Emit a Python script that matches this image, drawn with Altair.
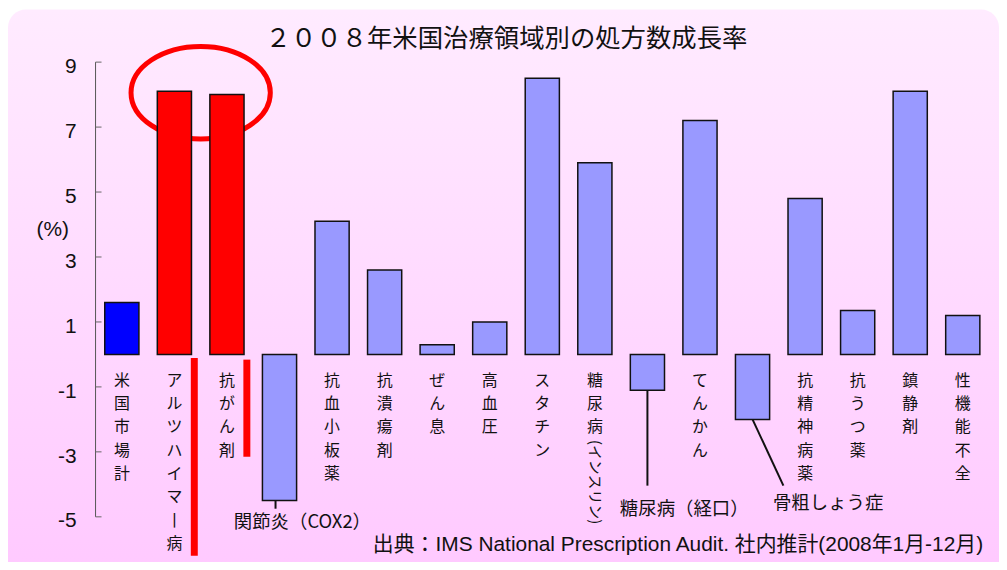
import altair as alt
import pandas as pd

# ---------------- data ----------------
categories = [
    "米国市場計", "アルツハイマー病", "抗がん剤", "関節炎(COX2)", "抗血小板薬",
    "抗潰瘍剤", "ぜん息", "高血圧", "スタチン", "糖尿病(インスリン)",
    "糖尿病(経口)", "てんかん", "骨粗しょう症", "抗精神病薬", "抗うつ薬",
    "鎮静剤", "性機能不全",
]
growth = [1.6, 8.1, 8.0, -4.5, 4.1, 2.6, 0.3, 1.0, 8.5, 5.9,
          -1.1, 7.2, -2.0, 4.8, 1.35, 8.1, 1.2]
groups = ["市場計", "注目", "注目"] + ["その他"] * 14
group_names = ["市場計", "注目", "その他"]
group_colors = ["#0000FF", "#FF0000", "#9999FF"]

# vertical labels written under the zero line ("" = labelled by a callout)
vertical_labels = [
    "米国市場計", "アルツハイマ丨病", "抗がん剤", "", "抗血小板薬",
    "抗潰瘍剤", "ぜん息", "高血圧", "スタチン", "糖尿病",
    "", "てんかん", "", "抗精神病薬", "抗うつ薬", "鎮静剤", "性機能不全",
]
rotated_category = "糖尿病(インスリン)"
rotated_text = "(インスリン)"
rotated_y = -3.93

callout_categories = ["関節炎(COX2)", "糖尿病(経口)", "骨粗しょう症"]
callout_texts = ["関節炎（COX2）", "糖尿病（経口）", "骨粗しょう症"]
callout_text_y = [-5.15, -4.77, -4.59]
leader_end_y = [-4.75, -4.04, -4.04]

marker_categories = ["アルツハイマー病", "抗がん剤"]
marker_top = [-0.11, -0.16]
marker_bottom = [-6.2, -3.15]

highlight_category = "アルツハイマー病"
highlight_y = 8.06

y_ticks = [-5, -3, -1, 1, 3, 5, 7, 9]
y_tick_labels = [("-" + str(abs(v))) if v < 0 else str(v) for v in y_ticks]
y_unit = "(%)"
y_unit_at = 3.9

title_text = "２００８年米国治療領域別の処方数成長率"
source_text = "出典：IMS National Prescription Audit. 社内推計(2008年1月-12月)"

# ---------------- layout constants ----------------
W, H = 898, 457
STEP = W / len(categories)
JP = "Noto Sans CJK JP"
LAT = "Liberation Sans"
AXIS_C = "#555555"

x_scale = alt.Scale(domain=categories, paddingInner=0.35, paddingOuter=0.175)
y_scale = alt.Scale(domain=[-5, 9], nice=False, zero=False)
zero_px = H * 9 / 14


def X():
    return alt.X("cat:N", scale=x_scale, axis=None)


def Yf(field):
    return alt.Y(f"{field}:Q", scale=y_scale, axis=None)


df = pd.DataFrame({"cat": categories, "growth": growth, "group": groups})

# background panel
bg = alt.Chart(pd.DataFrame({"a": [0]})).mark_rect(
    cornerRadius=18,
    fill=alt.LinearGradient(
        gradient="linear",
        stops=[alt.GradientStop(offset=0, color="#FFEBFF"),
               alt.GradientStop(offset=1, color="#FFC8FF")],
        x1=0, x2=0, y1=0, y2=1,
    ),
).encode(x=alt.value(-88), x2=alt.value(908), y=alt.value(-53), y2=alt.value(530))

# red highlight ellipse (drawn under the bars)
ellipse = alt.Chart(pd.DataFrame({"cat": [highlight_category], "v": [highlight_y]})).mark_point(
    shape="M -1 0 A 1 0.664 0 1 1 1 0 A 1 0.664 0 1 1 -1 0 Z",
    size=19600, filled=False, stroke="#FF0000", strokeWidth=5, opacity=1,
    xOffset=STEP / 2,
).encode(x=X(), y=Yf("v"))

bars = alt.Chart(df).mark_bar(stroke="#111111", strokeWidth=1.5).encode(
    x=alt.X("cat:N", scale=x_scale, axis=alt.Axis(
        orient="top", offset=-zero_px, labels=False, title=None,
        domainColor=AXIS_C, domainWidth=1, tickColor="#999999",
        tickSize=4, tickWidth=1, bandPosition=1, tickOffset=STEP * 0.175,
        grid=False, zindex=1)),
    y=Yf("growth"),
    y2=alt.datum(0),
    color=alt.Color("group:N", scale=alt.Scale(domain=group_names, range=group_colors), legend=None),
)

# y axis: line, inward ticks, labels, unit
ydf = pd.DataFrame({"v": y_ticks, "lab": y_tick_labels})
y_line = alt.Chart(pd.DataFrame({"a": [min(y_ticks)], "b": [max(y_ticks)]})).mark_rule(
    color=AXIS_C, strokeWidth=1).encode(x=alt.value(0), y=Yf("a"), y2="b:Q")
yticks = alt.Chart(ydf).mark_rule(color="#666666", strokeWidth=1).encode(
    y=Yf("v"), x=alt.value(0), x2=alt.value(6))
ylabels = alt.Chart(ydf).mark_text(
    font=LAT, fontSize=21, align="right", baseline="middle", dy=4.7, color="#111111",
).encode(y=Yf("v"), x=alt.value(-19), text="lab:N")
yunit = alt.Chart(pd.DataFrame({"t": [y_unit], "v": [y_unit_at]})).mark_text(
    font=LAT, fontSize=21, align="center", baseline="middle", dy=2, color="#111111",
).encode(y=Yf("v"), x=alt.value(-43), text="t:N")

lab_df = pd.DataFrame({"cat": categories,
                       "vlabel": ["\n".join(list(s)) for s in vertical_labels]})
lab_df = lab_df[lab_df["vlabel"] != ""]
labels = alt.Chart(lab_df).mark_text(
    font=JP, fontSize=16, lineBreak="\n", lineHeight=23.4, baseline="top",
    align="center", dy=18.6, color="#111111",
).encode(x=X(), y=alt.YDatum(0, scale=y_scale, axis=None), text="vlabel:N")

rot = alt.Chart(pd.DataFrame({"cat": [rotated_category], "t": [rotated_text], "v": [rotated_y]})).mark_text(
    font=JP, fontSize=15, angle=90, align="center", baseline="middle", color="#111111",
).encode(x=X(), y=Yf("v"), text="t:N")

layers = [bg, ellipse, bars, y_line, yticks, ylabels, yunit, labels, rot]

# callouts: text + leader lines
callout_dx = [23, 37, 76]
leader_dx0 = [-4, 0, 0]
leader_dx1 = [-4, 0, 31]
for i, c in enumerate(callout_categories):
    start = growth[categories.index(c)]
    cdf = pd.DataFrame({"cat": [c], "t": [callout_texts[i]], "ty": [callout_text_y[i]],
                        "y0": [start], "y1": [leader_end_y[i]]})
    layers.append(alt.Chart(cdf).mark_text(
        font=JP, fontSize=18.5, align="center", baseline="middle",
        dx=callout_dx[i], color="#111111",
    ).encode(x=X(), y=Yf("ty"), text="t:N"))
    if leader_dx1[i] == leader_dx0[i]:
        layers.append(alt.Chart(cdf).mark_rule(
            color="#111111", strokeWidth=2, xOffset=leader_dx0[i],
        ).encode(x=X(), y=Yf("y0"), y2="y1:Q"))
    else:
        layers.append(alt.Chart(cdf).mark_rule(
            color="#111111", strokeWidth=2, xOffset=leader_dx0[i], x2Offset=leader_dx1[i],
        ).encode(x=X(), x2="cat:N", y=Yf("y0"), y2="y1:Q"))

markers = alt.Chart(pd.DataFrame({"cat": marker_categories, "y0": marker_top, "y1": marker_bottom})).mark_rule(
    color="#FF0000", strokeWidth=7, xOffset=20, strokeCap="butt",
).encode(x=X(), y=Yf("y0"), y2="y1:Q")
layers.append(markers)

title = alt.Chart(pd.DataFrame({"t": [title_text]})).mark_text(
    font=JP, fontSize=25.5, align="center", baseline="middle", color="#111111",
).encode(x=alt.value(413), y=alt.value(-23.5), text="t:N")

source = alt.Chart(pd.DataFrame({"t": [source_text]})).mark_text(
    font=f"{LAT}, {JP}", fontSize=21, align="right", baseline="alphabetic", color="#111111",
).encode(x=alt.value(892), y=alt.value(491), text="t:N")

layers += [title, source]

chart = alt.layer(*layers).properties(
    width=W, height=H,
    padding={"left": 88, "top": 53, "right": 10, "bottom": 44},
    autosize=alt.AutoSizeParams(type="none"),
    background="white",
).configure_view(stroke=None)

chart.save("out.html", embed_options={"renderer": "svg", "actions": False})
